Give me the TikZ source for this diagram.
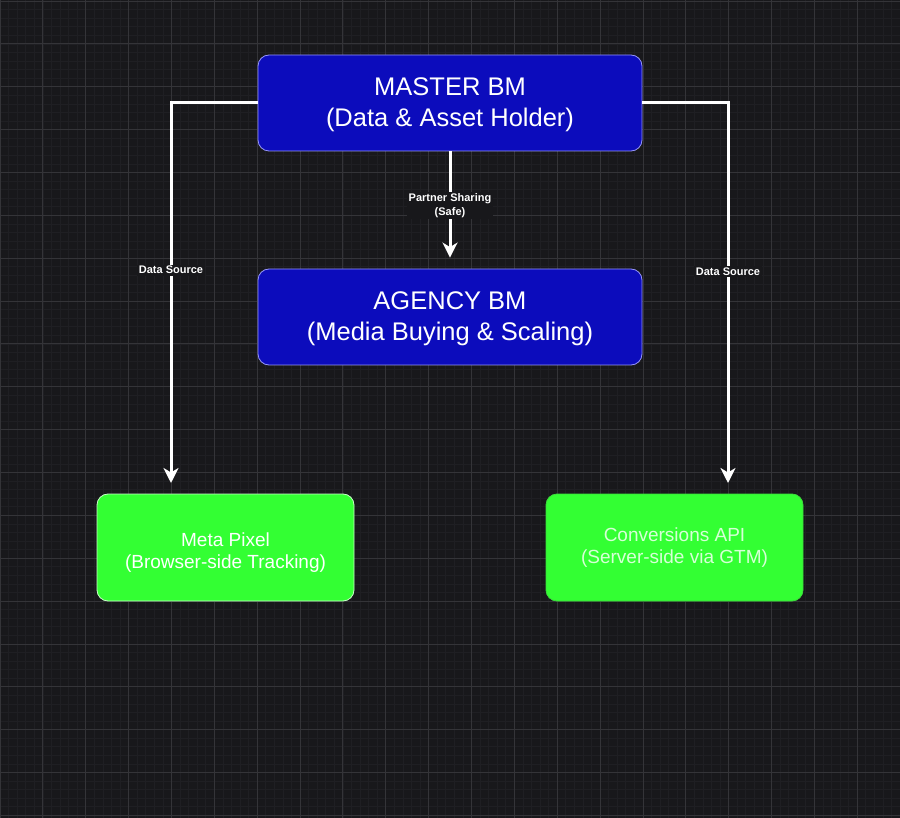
\documentclass[tikz,border=0pt]{standalone}
\usepackage{fontspec}
\setmainfont{Liberation Sans}
\usetikzlibrary{arrows.meta}
\definecolor{bgc}{RGB}{24,24,27}
\definecolor{minorc}{RGB}{31,31,35}
\definecolor{majorc}{RGB}{52,52,56}
\definecolor{bluefill}{RGB}{12,12,188}
\definecolor{blueedge}{RGB}{150,150,250}
\definecolor{greenfill}{RGB}{51,255,51}
\definecolor{greenedge}{RGB}{200,255,200}
\definecolor{greenedgeb}{RGB}{60,220,60}
\definecolor{paletext}{RGB}{215,255,215}
\tikzset{
  bluebox/.style={draw=blueedge, line width=0.8pt, fill=bluefill, rounded corners=11pt,
    minimum width=384pt, minimum height=96pt, inner sep=0pt},
  bluetext/.style={text=white, align=center, font=\fontsize{25.5}{31}\selectfont, inner sep=0pt},
  greenbox/.style={fill=greenfill, rounded corners=11pt, line width=0.8pt,
    minimum width=257pt, minimum height=107pt, inner sep=0pt},
  greentext/.style={align=center, font=\fontsize{19}{22.5}\selectfont, inner sep=0pt},
  conn/.style={draw=white, line width=3pt, -{Stealth[length=15pt,width=15pt,inset=4.5pt]}},
  lbl/.style={fill=bgc, text=white, font=\bfseries\fontsize{11}{14.5}\selectfont,
    inner sep=1.5pt, align=center},
  minorline/.style={draw=minorc, line width=0.6pt},
  majorline/.style={draw=majorc, line width=0.8pt}
}
\begin{document}
\begin{tikzpicture}[x=1pt,y=-1pt]
\fill[bgc] (0,0) rectangle (900,818);
\useasboundingbox (0,0) rectangle (900,818);
\foreach \i in {0,...,105} \draw[minorline] ({\i*8.572},0) -- ({\i*8.572},818);
\foreach \j in {0,...,96} \draw[minorline] (0,{1+\j*8.572}) -- (900,{1+\j*8.572});
\foreach \i in {0,...,21} \draw[majorline] ({\i*42.86},0) -- ({\i*42.86},818);
\foreach \j in {0,...,19} \draw[majorline] (0,{1+\j*42.86}) -- (900,{1+\j*42.86});

\node[bluebox] (master) at (450,103) {};
\node[bluetext] (mastertxt) at ([yshift=-2pt]master.center) {MASTER BM\\ (Data \& Asset Holder)};
\node[bluebox] (agency) at (450,317) {};
\node[bluetext] (agencytxt) at ([yshift=-1.5pt]agency.center) {AGENCY BM\\ (Media Buying \& Scaling)};
\node[greenbox, draw=greenedge] (meta) at (225.5,547.5) {};
\node[greentext, text=white] (metatxt) at ([yshift=-5pt]meta.center) {Meta Pixel\\ (Browser-side Tracking)};
\node[greenbox, draw=greenedgeb] (capi) at (674.5,547.5) {};
\node[greentext, text=paletext] (capitxt) at (capi.center) {Conversions API\\ (Server-side via GTM)};

\coordinate (metain) at (171,483);
\coordinate (capiin) at (728,483);

\draw[conn] (master.south) -- ([yshift=11pt]agency.north)
  node[lbl, pos=0.5, yshift=-1pt] (ps) {Partner Sharing\\(Safe)};
\draw[conn] (master.west) -| (metain)
  node[lbl, pos=0.72] (ds1) {Data Source};
\draw[conn] (master.east) -| (capiin)
  node[lbl, pos=0.722] (ds2) {Data Source};
\end{tikzpicture}
\end{document}
